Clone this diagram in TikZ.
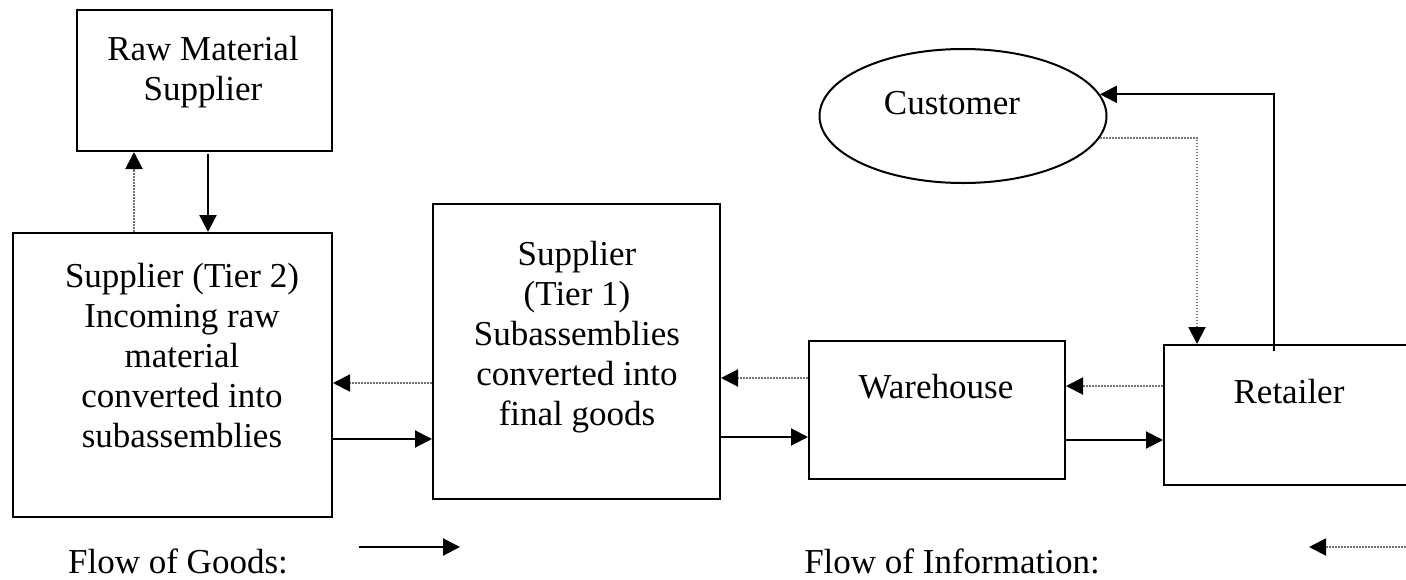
\documentclass[tikz,border=0pt]{standalone}
\usepackage{fontspec}
\setmainfont{Liberation Serif}
\usetikzlibrary{shapes.geometric,arrows.meta}
\tikzset{
  box/.style={draw, line width=2pt, inner sep=0pt, rectangle},
  oval/.style={draw, line width=2pt, inner sep=0pt, ellipse},
  lbl/.style={inner sep=0pt, align=center, anchor=base, font=\fontsize{35}{40}\selectfont},
  goods/.style={line width=2.1pt, -{Triangle[length=17pt,width=17pt]}},
  info/.style={line width=2pt, draw=black!55, dash pattern=on 1.6pt off 1.4pt,
    -{Triangle[length=17pt,width=17pt,fill=black,color=black]}}
}
\begin{document}
\begin{tikzpicture}[x=1pt,y=-1pt]
\useasboundingbox (0,0) rectangle (1406,579);
\clip (0,0) rectangle (1406,579);
% boxes
\node[box, minimum width=255pt, minimum height=141pt] (raw) at (204.5,80.5) {};
\node[box, minimum width=319pt, minimum height=284pt] (t2) at (172.5,375) {};
\node[box, minimum width=287pt, minimum height=295pt] (t1) at (576.5,351.5) {};
\node[box, minimum width=256pt, minimum height=138pt] (wh) at (937,410) {};
\node[box, minimum width=250pt, minimum height=140pt] (ret) at (1289,415) {};
\node[oval, minimum width=287pt, minimum height=134pt] (cust) at (963,116) {};
% texts (base = baseline of last line)
\node[lbl] (rawtxt) at (203,100) {Raw Material\\Supplier};
\node[lbl] (t2txt) at (182,447) {Supplier (Tier 2)\\Incoming raw\\material\\converted into\\subassemblies};
\node[lbl] (t1txt) at (577,425) {Supplier\\(Tier 1)\\Subassemblies\\converted into\\final goods};
\node[lbl] (whtxt) at (936,398) {Warehouse};
\node[lbl] (rettxt) at (1289,403) {Retailer};
\node[lbl] (custtxt) at (952,114) {Customer};
\node[lbl] (lgood) at (178,573) {Flow of Goods:};
\node[lbl] (linfo) at (952,573) {Flow of Information:};
% helper coordinates
\coordinate (xa) at (134,0);
\coordinate (xb) at (208,0);
\coordinate (xr) at (1274,0);
\coordinate (xd) at (1197,0);
\coordinate (ya) at (0,383);
\coordinate (yb) at (0,439);
\coordinate (yc) at (0,378);
\coordinate (yd) at (0,437);
\coordinate (ye) at (0,386);
\coordinate (yf) at (0,440);
\coordinate (lg1) at (359,547);
\coordinate (lg2) at (460,547);
\coordinate (li1) at (1412,547);
\coordinate (li2) at (1309,547);
% connectors
\draw[info] (t2.north -| xa) -- (raw.south -| xa);
\draw[goods] ([yshift=-2pt]raw.south -| xb) -- (t2.north -| xb);
\draw[info] (t1.west |- ya) -- (t2.east |- ya);
\draw[goods] (t2.east |- yb) -- (t1.west |- yb);
\draw[info] (wh.west |- yc) -- (t1.east |- yc);
\draw[goods] (t1.east |- yd) -- (wh.west |- yd);
\draw[info] (ret.west |- ye) -- (wh.east |- ye);
\draw[goods] (wh.east |- yf) -- (ret.west |- yf);
\draw[goods] ([yshift=-7pt]ret.north -| xr) |- (cust.9);
\draw[info] (cust.-9) -| (ret.north -| xd);
% legend
\draw[goods] (lg1) -- (lg2);
\draw[info] (li1) -- (li2);
\end{tikzpicture}
\end{document}
